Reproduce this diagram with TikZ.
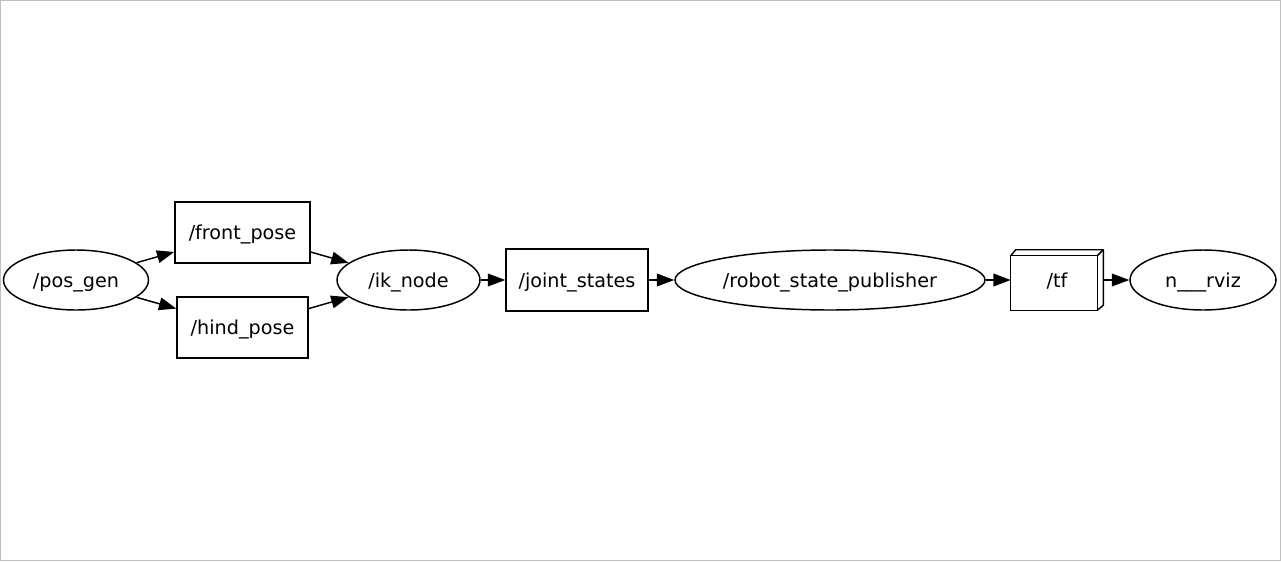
\documentclass[tikz,border=0pt]{standalone}
\usepackage{fontspec}
\setmainfont{DejaVu Sans}
\usetikzlibrary{arrows.meta,shapes.geometric}

\tikzset{
  rosnode/.style={draw, ellipse, inner sep=0pt, line width=1.1pt,
    minimum height=45pt, text height=11pt, text depth=0pt},
  topic/.style={draw, rectangle, inner sep=0pt, line width=1.1pt,
    text height=11pt, text depth=0pt},
  conn/.style={-{Triangle[length=13pt,width=9.5pt]}, line width=1.1pt}
}

\begin{document}
\begin{tikzpicture}[x=0.75pt, y=-0.75pt,
    font=\fontsize{14.4}{17}\selectfont]
    % frame
    \useasboundingbox (0,0) rectangle (1281,561);
    \draw[black!25, line width=0.75pt] (0.5,0.5) rectangle (1280.5,560.5);

    % pos_gen
    \node[rosnode, minimum width=108.75pt] (posgen) at (76,280) {/pos\_gen};

    % front and hind pose topics
    \node[topic,
      minimum width=101.25pt,
      minimum height=45.75pt] (front) at (242.5,232.5) {/front\_pose};
    \node[topic,
      minimum width=98.25pt,
      minimum height=45.75pt] (hind) at (242.5,327.5) {/hind\_pose};

    % ik_node
    \node[rosnode, minimum width=107.25pt] (iknode) at (408.5,280) {/ik\_node};

    % joint_states
    \node[topic,
      minimum width=106.5pt,
      minimum height=46.5pt] (joints) at (577,280) {/joint\_states};

    % robot_state_publisher
    \node[rosnode, minimum width=232.5pt] (rsp) at (830,280) {/robot\_state\_publisher};

    % tf (box with depth)
    \node[minimum width=69pt,
      minimum height=45pt,
      inner sep=0pt,
      text height=11pt,
      text depth=0pt] (tf) at (1057,280) {/tf};
    \draw[line width=1.1pt] (tf.south west)
      rectangle ([xshift=-4.5pt,yshift=-4.5pt]tf.north east);
    \draw[line width=1.1pt, line join=bevel]
      ([yshift=-4.5pt]tf.north west) -- ([xshift=3.75pt]tf.north west)
      -- (tf.north east) -- ([yshift=3.75pt]tf.south east)
      -- ([xshift=-4.5pt]tf.south east);
    \draw[line width=1.1pt] ([xshift=-4.5pt,yshift=-4.5pt]tf.north east)
      -- (tf.north east);

    % rviz
    \node[rosnode, minimum width=109.5pt] (rviz) at (1203,280) {n\_\_\_rviz};

    % Draw Arrows
    \draw[conn] (posgen) -- (front);
    \draw[conn] (posgen) -- (hind);
    \draw[conn] (front) -- (iknode);
    \draw[conn] (hind) -- (iknode);
    \draw[conn] (iknode) -- (joints);
    \draw[conn] (joints) -- (rsp);
    \draw[conn] (rsp) -- (tf);
    \draw[conn] (tf) -- (rviz);

  \end{tikzpicture}
\end{document}
